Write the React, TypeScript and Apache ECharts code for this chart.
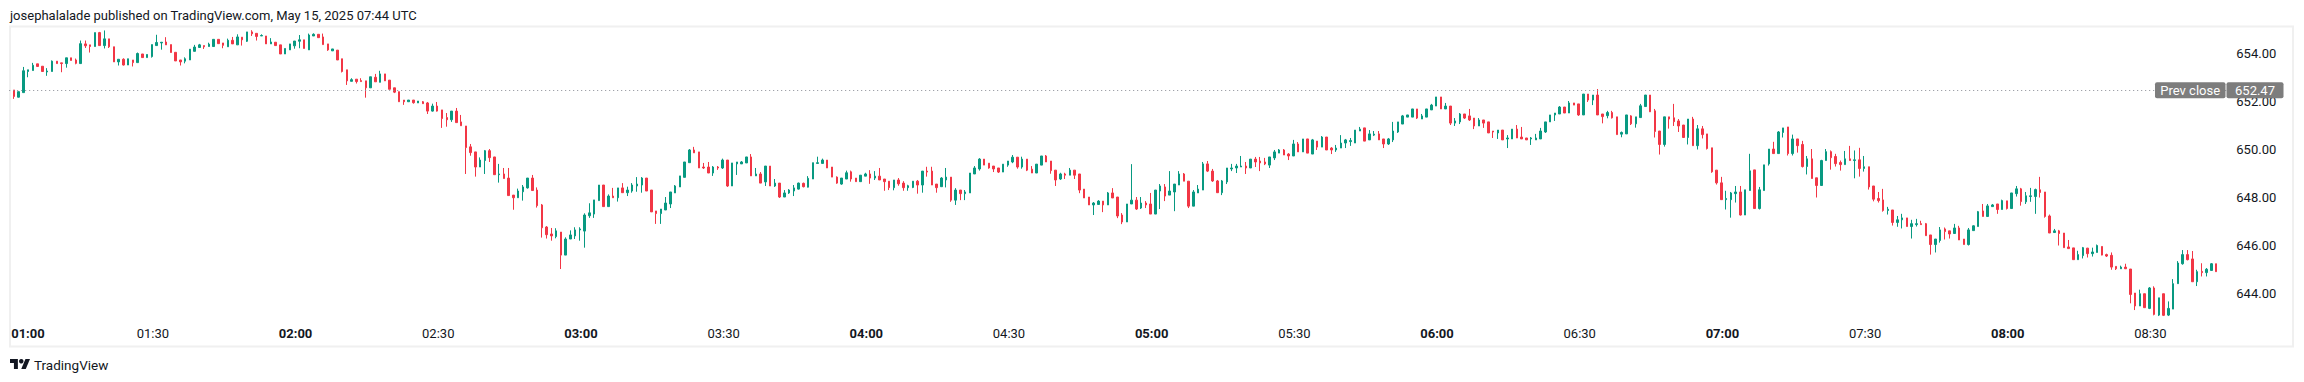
import React, { useEffect, useRef } from "react";
import * as echarts from "echarts";

const TITLE = "josephalalade published on TradingView.com, May 15, 2025 07:44 UTC";
const BRAND = "TradingView";
const PREV_CLOSE = 652.47;
const PREV_LABEL = "Prev close";
const SESSION_START_MIN = 60; // 01:00
const SLOT_COUNT = 468; // 01:00 .. 08:47
const PRICE_MIN = 642;
const PRICE_MAX = 655;
const PRICE_STEP = 2;

const FONT = "Roboto, 'Noto Sans', sans-serif";
const UP = "#089981";
const DOWN = "#F23645";
const TEXT = "#131722";

// one-minute bars, [open, high, low, close]
// 01:01 - 01:59
const bars01 = [
  [652.48, 652.48, 652.11, 652.21], [652.18, 652.41, 652.17, 652.41], [652.37, 653.44, 652.37, 653.28],
  [653.25, 653.32, 653.01, 653.32], [653.29, 653.61, 653.29, 653.51], [653.57, 653.57, 653.46, 653.46],
  [653.47, 653.47, 653.24, 653.25], [653.23, 653.39, 653.07, 653.27], [653.25, 653.71, 653.25, 653.68],
  [653.68, 653.68, 653.58, 653.58], [653.61, 653.61, 653.22, 653.58], [653.58, 653.82, 653.41, 653.82],
  [653.82, 653.82, 653.71, 653.71], [653.73, 653.79, 653.55, 653.59], [653.58, 654.54, 653.58, 654.41],
  [654.40, 654.54, 654.23, 654.32], [654.36, 654.36, 654.04, 654.29], [654.29, 654.87, 654.29, 654.87],
  [654.87, 654.90, 654.33, 654.33], [654.33, 654.96, 654.21, 654.61], [654.61, 654.61, 654.23, 654.28],
  [654.28, 654.28, 653.65, 653.65], [653.65, 653.76, 653.50, 653.76], [653.76, 653.80, 653.50, 653.52],
  [653.52, 653.78, 653.52, 653.78], [653.73, 653.73, 653.46, 653.62], [653.62, 654.04, 653.62, 654.00],
  [653.98, 653.98, 653.83, 653.83], [653.83, 653.96, 653.83, 653.96], [653.87, 654.37, 653.83, 654.37],
  [654.33, 654.78, 654.33, 654.46], [654.44, 654.47, 654.16, 654.47], [654.48, 654.68, 654.36, 654.36],
  [654.37, 654.37, 654.04, 654.04], [654.05, 654.05, 653.69, 653.69], [653.73, 653.73, 653.50, 653.65],
  [653.68, 653.84, 653.59, 653.78], [653.73, 654.18, 653.73, 654.18], [654.09, 654.36, 654.09, 654.27],
  [654.25, 654.40, 654.24, 654.36], [654.33, 654.33, 654.19, 654.28], [654.29, 654.45, 654.29, 654.39],
  [654.29, 654.59, 654.29, 654.59], [654.59, 654.59, 654.41, 654.41], [654.44, 654.44, 654.22, 654.34],
  [654.28, 654.62, 654.28, 654.55], [654.55, 654.69, 654.40, 654.40], [654.36, 654.80, 654.36, 654.69],
  [654.68, 654.68, 654.33, 654.57], [654.51, 654.90, 654.48, 654.90], [654.90, 654.97, 654.73, 654.82],
  [654.84, 654.84, 654.54, 654.71], [654.73, 654.80, 654.73, 654.75], [654.73, 654.73, 654.40, 654.40],
  [654.40, 654.64, 654.40, 654.48], [654.47, 654.47, 654.33, 654.33], [654.36, 654.36, 653.98, 653.98],
  [653.98, 654.21, 653.98, 654.21], [654.15, 654.40, 654.15, 654.40],
];
// 02:00 - 02:59
const bars02 = [
  [654.32, 654.52, 654.20, 654.52], [654.51, 654.77, 654.22, 654.57], [654.57, 654.57, 654.21, 654.21],
  [654.15, 654.83, 654.15, 654.77], [654.73, 654.84, 654.73, 654.80], [654.80, 654.80, 654.66, 654.66],
  [654.69, 654.83, 654.37, 654.37], [654.40, 654.40, 654.11, 654.15], [654.11, 654.19, 654.11, 654.19],
  [654.14, 654.14, 653.73, 653.73], [653.78, 653.78, 653.21, 653.25], [653.32, 653.32, 652.69, 652.86],
  [652.84, 652.97, 652.84, 652.91], [652.93, 652.93, 652.75, 652.83], [652.87, 652.97, 652.83, 652.83],
  [652.86, 652.86, 652.16, 652.57], [652.57, 653.03, 652.57, 653.03], [653.01, 653.15, 652.82, 652.82],
  [652.80, 653.28, 652.80, 653.15], [653.15, 653.15, 652.86, 652.86], [652.89, 652.89, 652.51, 652.51],
  [652.57, 652.57, 652.35, 652.39], [652.41, 652.41, 651.99, 651.99], [652.06, 652.06, 651.86, 651.99],
  [651.99, 652.06, 651.99, 652.06], [652.06, 652.06, 651.91, 651.95], [651.94, 652.02, 651.94, 652.02],
  [651.99, 652.02, 651.91, 651.91], [651.94, 651.98, 651.48, 651.60], [651.60, 651.91, 651.58, 651.81],
  [651.81, 651.98, 651.58, 651.60], [651.65, 651.65, 650.90, 651.29], [651.33, 651.52, 650.95, 651.24],
  [651.24, 651.60, 651.15, 651.60], [651.60, 651.73, 651.12, 651.12], [651.15, 651.44, 650.99, 650.99],
  [650.98, 650.98, 648.98, 650.08], [650.11, 650.23, 649.74, 649.87], [649.90, 649.90, 648.87, 649.27],
  [649.27, 649.67, 649.27, 649.56], [649.54, 649.98, 648.98, 649.95], [649.95, 650.02, 649.48, 649.66],
  [649.69, 649.69, 648.95, 648.95], [648.95, 649.40, 648.62, 648.98], [648.98, 649.23, 648.79, 648.79],
  [648.81, 649.23, 648.08, 648.08], [648.10, 648.10, 647.49, 647.99], [647.99, 648.37, 647.99, 648.27],
  [648.24, 648.52, 647.87, 648.44], [648.40, 648.81, 648.37, 648.81], [648.81, 648.94, 648.29, 648.29],
  [648.31, 648.42, 647.58, 647.66], [647.69, 647.73, 646.33, 646.74], [646.77, 646.81, 646.29, 646.45],
  [646.48, 646.73, 646.20, 646.40], [646.37, 646.72, 646.30, 646.61], [646.56, 646.56, 645.02, 645.60],
  [645.60, 646.34, 645.60, 646.27], [646.27, 646.63, 646.27, 646.44], [646.40, 646.76, 646.27, 646.65],
];
// 03:00 - 03:59
const bars03 = [
  [646.65, 646.76, 646.20, 646.69], [646.60, 647.34, 645.91, 647.27], [647.24, 647.76, 647.15, 647.36],
  [647.31, 647.90, 647.15, 647.90], [647.87, 648.52, 647.87, 648.52], [648.52, 648.52, 647.62, 647.62],
  [647.62, 648.13, 647.62, 648.06], [648.06, 648.40, 647.99, 647.99], [647.99, 648.40, 647.83, 648.40],
  [648.40, 648.60, 648.20, 648.20], [648.20, 648.45, 648.06, 648.31], [648.27, 648.60, 648.20, 648.52],
  [648.48, 648.85, 648.24, 648.56], [648.52, 648.85, 648.20, 648.81], [648.81, 648.81, 648.27, 648.27],
  [648.31, 648.31, 647.40, 647.40], [647.44, 647.44, 646.90, 647.33], [647.33, 647.52, 646.90, 647.52],
  [647.48, 648.02, 647.48, 647.77], [647.73, 648.23, 647.56, 648.23], [648.19, 648.52, 648.19, 648.48],
  [648.44, 648.90, 648.44, 648.90], [648.84, 649.48, 648.84, 649.48], [649.45, 650.02, 649.45, 649.98],
  [649.98, 650.11, 649.86, 649.86], [649.90, 649.90, 649.23, 649.23], [649.27, 649.44, 649.19, 649.23],
  [649.27, 649.48, 649.02, 649.02], [649.02, 649.31, 648.90, 649.27], [649.27, 649.31, 649.15, 649.23],
  [649.23, 649.62, 649.19, 649.56], [649.56, 649.56, 648.44, 648.48], [648.48, 649.44, 648.48, 649.44],
  [649.40, 649.48, 648.94, 649.48], [649.40, 649.52, 649.40, 649.48], [649.44, 649.69, 649.44, 649.69],
  [649.69, 649.81, 648.90, 648.90], [648.90, 649.23, 648.90, 648.98], [648.98, 649.06, 648.60, 648.60],
  [648.65, 649.31, 648.48, 649.31], [649.31, 649.31, 648.48, 648.48], [648.48, 648.77, 648.44, 648.60],
  [648.60, 648.60, 647.98, 648.02], [648.02, 648.31, 648.02, 648.19], [648.19, 648.35, 648.15, 648.31],
  [648.27, 648.52, 648.06, 648.40], [648.35, 648.62, 648.33, 648.60], [648.59, 648.62, 648.42, 648.45],
  [648.43, 648.89, 648.42, 648.80], [648.77, 649.45, 648.77, 649.45], [649.42, 649.70, 649.42, 649.45],
  [649.42, 649.62, 649.42, 649.56], [649.56, 649.56, 649.23, 649.23], [649.27, 649.27, 648.85, 648.85],
  [648.85, 648.88, 648.57, 648.60], [648.56, 648.81, 648.53, 648.81], [648.77, 649.12, 648.77, 649.03],
  [649.07, 649.12, 648.66, 648.77], [648.81, 648.81, 648.66, 648.66], [648.66, 648.93, 648.66, 648.93],
];
// 04:00 - 04:59
const bars04 = [
  [648.89, 649.03, 648.89, 648.98], [648.98, 649.14, 648.57, 648.81], [648.81, 649.10, 648.73, 648.89],
  [648.89, 649.23, 648.73, 648.73], [648.77, 648.77, 648.28, 648.66], [648.68, 648.68, 648.31, 648.41],
  [648.41, 648.73, 648.30, 648.73], [648.73, 648.81, 648.49, 648.57], [648.60, 648.68, 648.28, 648.41],
  [648.41, 648.53, 648.28, 648.49], [648.42, 648.68, 648.39, 648.68], [648.68, 648.73, 648.16, 648.52],
  [648.52, 649.10, 648.20, 649.10], [649.10, 649.28, 648.87, 649.06], [649.10, 649.28, 648.52, 648.52],
  [648.56, 648.56, 648.20, 648.41], [648.45, 648.85, 648.45, 648.81], [648.73, 649.23, 648.42, 648.85],
  [648.85, 648.85, 647.82, 647.89], [647.89, 648.39, 647.69, 648.31], [648.31, 648.31, 647.89, 648.16],
  [648.16, 648.31, 647.89, 648.23], [648.19, 649.02, 648.19, 649.02], [648.98, 649.31, 648.98, 649.23],
  [649.19, 649.64, 649.12, 649.60], [649.60, 649.60, 649.35, 649.35], [649.43, 649.43, 649.20, 649.23],
  [649.31, 649.31, 649.06, 649.19], [649.23, 649.23, 649.02, 649.06], [649.06, 649.39, 649.06, 649.39],
  [649.35, 649.52, 649.28, 649.52], [649.48, 649.77, 649.43, 649.68], [649.68, 649.68, 649.20, 649.27],
  [649.27, 649.70, 649.20, 649.60], [649.60, 649.60, 649.10, 649.14], [649.18, 649.31, 649.02, 649.02],
  [649.02, 649.39, 649.02, 649.39], [649.35, 649.73, 649.35, 649.73], [649.73, 649.77, 649.48, 649.48],
  [649.52, 649.52, 648.99, 649.12], [649.14, 649.14, 648.48, 648.73], [648.77, 649.03, 648.73, 648.98],
  [648.98, 649.03, 648.77, 648.93], [648.93, 649.23, 648.93, 649.14], [649.14, 649.14, 648.77, 648.93],
  [648.98, 648.98, 648.18, 648.31], [648.35, 648.35, 647.98, 647.98], [648.02, 648.02, 647.69, 647.69],
  [647.69, 647.81, 647.27, 647.77], [647.71, 647.89, 647.69, 647.85], [647.85, 647.85, 647.39, 647.69],
  [647.69, 648.23, 647.69, 648.19], [648.19, 648.39, 647.98, 647.98], [648.02, 648.02, 647.14, 647.23],
  [647.27, 647.35, 646.89, 646.98], [646.98, 647.73, 646.98, 647.73], [647.73, 649.39, 647.73, 647.89],
  [647.89, 648.02, 647.48, 647.52], [647.56, 648.02, 647.52, 647.77], [647.77, 647.85, 647.56, 647.69],
];
// 05:00 - 05:59
const bars05 = [
  [647.73, 648.19, 647.31, 647.31], [647.31, 648.31, 647.31, 648.31], [648.27, 648.56, 647.52, 648.48],
  [648.44, 648.56, 647.85, 648.06], [648.10, 649.10, 648.10, 648.27], [648.23, 648.56, 647.43, 648.56],
  [648.52, 649.10, 648.52, 648.98], [648.98, 649.02, 648.68, 648.68], [648.68, 648.68, 647.56, 647.64],
  [647.64, 648.31, 647.64, 648.23], [648.19, 648.52, 648.19, 648.35], [648.31, 649.48, 648.31, 649.40],
  [649.40, 649.52, 649.06, 649.10], [649.10, 649.19, 648.65, 648.69], [648.69, 648.73, 648.20, 648.20],
  [648.20, 648.73, 648.10, 648.69], [648.65, 649.23, 648.56, 649.23], [649.19, 649.40, 649.10, 649.23],
  [649.23, 649.40, 649.02, 649.31], [649.27, 649.73, 649.27, 649.31], [649.31, 649.48, 648.98, 649.23],
  [649.23, 649.60, 649.23, 649.60], [649.60, 649.69, 649.27, 649.48], [649.52, 649.69, 649.10, 649.44],
  [649.48, 649.65, 649.35, 649.40], [649.35, 649.69, 649.23, 649.69], [649.65, 649.98, 649.56, 649.90],
  [649.85, 650.02, 649.85, 649.98], [649.98, 650.02, 649.77, 649.77], [649.81, 649.85, 649.56, 649.73],
  [649.73, 650.40, 649.73, 650.23], [650.23, 650.31, 649.90, 649.90], [649.90, 650.44, 649.90, 650.44],
  [650.44, 650.44, 649.85, 649.85], [649.81, 650.44, 649.81, 650.40], [650.35, 650.35, 649.98, 650.10],
  [650.10, 650.56, 650.10, 650.52], [650.52, 650.52, 649.98, 649.98], [650.06, 650.10, 649.81, 649.98],
  [649.98, 650.19, 649.90, 650.06], [650.06, 650.60, 650.06, 650.27], [650.27, 650.44, 650.06, 650.40],
  [650.33, 650.48, 650.15, 650.37], [650.27, 650.81, 650.27, 650.81], [650.77, 650.94, 650.77, 650.85],
  [650.90, 650.90, 650.35, 650.35], [650.40, 650.81, 650.40, 650.65], [650.60, 650.77, 650.56, 650.64],
  [650.65, 650.77, 650.40, 650.40], [650.44, 650.44, 650.06, 650.23], [650.23, 650.48, 650.19, 650.44],
  [650.40, 651.15, 650.31, 650.77], [650.73, 651.15, 650.69, 651.15], [651.06, 651.44, 651.06, 651.40],
  [651.35, 651.44, 651.35, 651.44], [651.35, 651.69, 651.35, 651.69], [651.69, 651.69, 651.27, 651.31],
  [651.27, 651.48, 651.27, 651.40], [651.35, 651.69, 651.35, 651.69], [651.65, 651.90, 651.65, 651.85],
];
// 06:00 - 06:59
const bars06 = [
  [651.81, 652.19, 651.81, 652.19], [652.19, 652.19, 651.69, 651.69], [651.69, 651.94, 651.69, 651.81],
  [651.81, 651.81, 651.02, 651.10], [651.10, 651.31, 650.98, 651.19], [651.15, 651.52, 651.06, 651.48],
  [651.48, 651.48, 651.27, 651.31], [651.40, 651.69, 651.19, 651.23], [651.31, 651.31, 650.85, 650.98],
  [650.98, 651.31, 650.98, 651.23], [651.23, 651.23, 650.90, 651.10], [651.15, 651.15, 650.69, 650.69],
  [650.77, 650.77, 650.48, 650.73], [650.69, 650.81, 650.44, 650.81], [650.81, 650.81, 650.40, 650.40],
  [650.44, 650.60, 650.06, 650.48], [650.44, 650.85, 650.44, 650.85], [650.85, 651.02, 650.48, 650.48],
  [650.52, 650.94, 650.44, 650.44], [650.48, 650.48, 650.40, 650.40], [650.44, 650.52, 650.19, 650.48],
  [650.40, 650.65, 650.40, 650.48], [650.44, 650.90, 650.44, 650.77], [650.73, 651.15, 650.69, 651.15],
  [651.15, 651.44, 651.15, 651.44], [651.44, 651.52, 651.19, 651.52], [651.48, 651.81, 651.48, 651.77],
  [651.77, 651.77, 651.52, 651.52], [651.52, 652.02, 651.52, 651.94], [651.94, 651.94, 651.85, 651.85],
  [651.90, 651.90, 651.40, 651.44], [651.44, 652.31, 651.44, 652.31], [652.31, 652.31, 651.98, 652.06],
  [652.06, 652.27, 651.85, 652.27], [652.27, 652.52, 651.44, 651.44], [651.48, 651.48, 651.09, 651.37],
  [651.41, 651.61, 651.30, 651.54], [651.54, 651.61, 651.29, 651.32], [651.36, 651.36, 650.62, 650.62],
  [650.64, 650.75, 650.51, 650.71], [650.65, 651.44, 650.65, 651.44], [651.40, 651.43, 651.02, 651.07],
  [651.07, 651.36, 650.91, 651.36], [651.33, 651.90, 651.33, 651.82], [651.79, 652.27, 651.79, 652.27],
  [652.27, 652.27, 651.57, 651.57], [651.61, 651.69, 650.50, 650.75], [650.77, 650.77, 649.79, 650.21],
  [650.21, 651.36, 650.12, 651.36], [651.36, 651.36, 650.87, 651.27], [651.32, 651.90, 650.98, 651.16],
  [651.19, 651.27, 650.73, 650.98], [651.02, 651.02, 650.50, 650.50], [650.50, 651.27, 650.21, 651.27],
  [651.27, 651.36, 650.16, 650.16], [650.16, 651.02, 650.00, 650.86], [650.86, 650.98, 650.46, 650.62],
  [650.65, 650.65, 650.00, 650.04], [650.07, 650.07, 649.03, 649.07], [649.14, 649.14, 648.54, 648.61],
];
// 07:00 - 07:59
const bars07 = [
  [648.61, 648.86, 647.91, 647.91], [647.91, 648.28, 647.50, 647.96], [647.91, 648.23, 647.16, 648.19],
  [648.16, 648.48, 647.79, 648.23], [648.23, 648.48, 647.25, 647.27], [647.27, 648.32, 647.27, 648.32],
  [648.29, 649.82, 648.29, 649.11], [649.15, 649.15, 647.54, 647.54], [647.54, 648.44, 647.50, 648.32],
  [648.29, 649.36, 648.29, 649.36], [649.40, 650.02, 649.33, 650.02], [650.02, 650.32, 649.83, 649.83],
  [649.83, 650.77, 649.83, 650.73], [650.71, 650.90, 650.50, 650.90], [650.94, 650.94, 649.75, 649.83],
  [649.83, 650.62, 649.75, 650.44], [650.44, 650.44, 649.87, 650.16], [650.21, 650.36, 649.25, 649.29],
  [649.29, 649.73, 648.96, 649.61], [649.61, 650.02, 648.79, 648.79], [648.82, 648.82, 648.00, 648.50],
  [648.50, 649.57, 648.50, 649.54], [649.54, 650.02, 649.54, 649.91], [649.91, 649.96, 649.16, 649.66],
  [649.71, 649.82, 649.29, 649.41], [649.46, 649.54, 649.12, 649.37], [649.37, 649.94, 649.37, 649.61],
  [649.61, 650.15, 649.54, 649.54], [649.54, 649.96, 648.80, 649.57], [649.57, 650.07, 648.87, 649.21],
  [649.21, 649.73, 649.08, 649.28], [649.28, 649.28, 648.33, 648.44], [648.48, 648.48, 647.84, 647.93],
  [647.96, 648.23, 647.79, 647.87], [647.90, 648.36, 647.41, 647.46], [647.46, 647.61, 647.29, 647.51],
  [647.48, 647.48, 646.83, 646.96], [646.96, 647.23, 646.78, 647.07], [647.07, 647.32, 646.71, 647.15],
  [647.15, 647.15, 646.79, 646.79], [646.79, 647.07, 646.29, 646.91], [646.87, 647.11, 646.79, 646.91],
  [646.91, 647.03, 646.87, 646.87], [646.91, 646.94, 646.41, 646.41], [646.44, 646.44, 645.62, 646.04],
  [646.04, 646.27, 645.71, 646.27], [646.21, 646.77, 646.12, 646.65], [646.69, 646.75, 646.25, 646.58],
  [646.61, 646.61, 646.29, 646.48], [646.50, 646.90, 646.50, 646.73], [646.73, 646.82, 646.23, 646.23],
  [646.27, 646.27, 646.04, 646.04], [646.04, 646.73, 646.00, 646.65], [646.62, 646.84, 646.62, 646.82],
  [646.79, 647.44, 646.79, 647.41], [647.44, 647.73, 647.21, 647.21], [647.21, 647.73, 647.21, 647.65],
  [647.62, 647.73, 647.61, 647.69], [647.73, 647.73, 647.32, 647.50], [647.50, 647.91, 647.50, 647.87],
];
// 08:00 - 08:44
const bars08 = [
  [647.86, 647.86, 647.50, 647.54], [647.54, 648.19, 647.54, 648.19], [648.16, 648.48, 648.04, 648.36],
  [648.36, 648.40, 647.66, 647.83], [647.82, 648.23, 647.73, 648.07], [648.04, 648.40, 647.82, 648.07],
  [648.04, 648.37, 647.32, 648.33], [648.32, 648.86, 648.00, 648.21], [648.23, 648.23, 647.16, 647.21],
  [647.23, 647.29, 646.52, 646.52], [646.54, 646.69, 646.54, 646.61], [646.61, 646.65, 646.00, 646.50],
  [646.52, 646.52, 645.91, 645.91], [645.94, 646.23, 645.87, 645.87], [645.90, 645.90, 645.41, 645.41],
  [645.41, 645.78, 645.41, 645.62], [645.58, 645.94, 645.46, 645.91], [645.89, 645.90, 645.50, 645.66],
  [645.66, 645.91, 645.54, 645.73], [645.71, 646.04, 645.71, 646.00], [645.96, 645.96, 645.59, 645.60],
  [645.62, 645.66, 645.52, 645.56], [645.59, 645.71, 644.99, 645.10], [645.13, 645.13, 644.98, 645.03],
  [645.03, 645.16, 645.02, 645.10], [645.10, 645.24, 645.02, 645.03], [645.02, 645.02, 643.59, 643.96],
  [644.02, 644.02, 643.31, 643.48], [643.48, 644.16, 643.48, 643.99], [643.99, 643.99, 643.41, 643.41],
  [643.38, 644.27, 643.35, 644.23], [644.23, 644.30, 643.09, 643.13], [643.10, 643.82, 643.06, 643.82],
  [643.99, 643.99, 643.06, 643.09], [643.10, 643.67, 643.06, 643.38], [643.35, 644.60, 643.35, 644.41],
  [644.41, 645.35, 644.41, 645.27], [645.24, 645.81, 645.20, 645.62], [645.62, 645.81, 645.38, 645.41],
  [645.44, 645.77, 644.49, 644.49], [644.49, 644.99, 644.31, 644.91], [644.92, 645.26, 644.71, 644.87],
  [644.87, 645.06, 644.71, 645.01], [644.96, 645.27, 644.96, 645.24], [645.24, 645.24, 644.91, 644.91],
];

const BARS = [...bars01, ...bars02, ...bars03, ...bars04, ...bars05, ...bars06, ...bars07, ...bars08];

function minuteLabel(m: number): string {
  const h = Math.floor(m / 60);
  const mm = m % 60;
  return String(h).padStart(2, "0") + ":" + String(mm).padStart(2, "0");
}

function buildTimes(): string[] {
  const out: string[] = [];
  for (let k = 0; k < SLOT_COUNT; k++) out.push(minuteLabel(SESSION_START_MIN + k));
  return out;
}

export default function App() {
  const ref = useRef<HTMLDivElement>(null);

  useEffect(() => {
    const el = ref.current;
    if (!el) return;
    const chart = echarts.init(el, null, { renderer: "svg" });
    const times = buildTimes();
    // first bar is 01:01 (slot 1)
    const data = BARS.map((b, k) => [times[k + 1], b[0], b[3], b[2], b[1]]);

    chart.setOption({
      animation: false,
      backgroundColor: "#ffffff",
      textStyle: { fontFamily: FONT },
      grid: { left: 9.2, right: 73.7, top: 29.5, bottom: 40.5, containLabel: false },
      xAxis: {
        type: "category",
        data: times,
        boundaryGap: false,
        axisLine: { show: false },
        axisTick: { show: false },
        splitLine: { show: false },
        axisLabel: {
          interval: (_i: number, v: string) => v.endsWith(":00") || v.endsWith(":30"),
          margin: -8,
          verticalAlign: "middle",
          alignMinLabel: "left",
          padding: [0, 0, 0, 2],
          formatter: (v: string) => (v.endsWith(":00") ? `{b|${v}}` : `{n|${v}}`),
          rich: {
            b: { fontWeight: "bold", fontSize: 13, color: TEXT, fontFamily: FONT },
            n: { fontWeight: "normal", fontSize: 13, color: TEXT, fontFamily: FONT },
          },
        },
      },
      yAxis: {
        type: "value",
        position: "right",
        min: PRICE_MIN,
        max: PRICE_MAX,
        interval: PRICE_STEP,
        scale: true,
        axisLine: { show: false },
        axisTick: { show: false },
        splitLine: { show: false },
        axisLabel: {
          margin: 6,
          color: TEXT,
          fontSize: 13,
          fontFamily: FONT,
          padding: [0, 0, 2, 0],
          formatter: (v: number) => (v <= PRICE_MIN || v >= PRICE_MAX ? "" : v.toFixed(2)),
        },
      },
      series: [
        {
          type: "candlestick",
          data,
          encode: { x: 0, y: [1, 2, 3, 4] },
          barWidth: 2,
          itemStyle: {
            color: UP,
            color0: DOWN,
            borderColor: UP,
            borderColor0: DOWN,
            borderWidth: 1,
          },
          markLine: {
            silent: true,
            symbol: ["none", "none"],
            label: { show: false },
            lineStyle: { color: "#8a8d96", width: 1, type: [1, 3] },
            data: [{ yAxis: PREV_CLOSE }],
          },
        },
      ],
    });

    const py = chart.convertToPixel({ yAxisIndex: 0 }, PREV_CLOSE) as number;

    chart.setOption({
      graphic: [
        {
          type: "rect",
          silent: true,
          z: 0,
          shape: { x: 10, y: 26.5, width: 2283, height: 320 },
          style: { fill: "none", stroke: "#F0F0F0", lineWidth: 2 },
        },
        {
          type: "text",
          x: 10,
          y: 15,
          style: { text: TITLE, fill: TEXT, fontSize: 13, fontFamily: FONT, align: "left", verticalAlign: "middle" },
        },
        {
          type: "rect",
          z: 100,
          shape: { x: 2155, y: py - 8, width: 70.5, height: 16, r: 2 },
          style: { fill: "#7d7d7d" },
        },
        {
          type: "text",
          z: 101,
          x: 2190.2,
          y: py,
          style: { text: PREV_LABEL, fill: "#ffffff", fontSize: 13, fontFamily: FONT, align: "center", verticalAlign: "middle" },
        },
        {
          type: "rect",
          z: 100,
          shape: { x: 2226.5, y: py - 8, width: 57, height: 16, r: 2 },
          style: { fill: "#7d7d7d" },
        },
        {
          type: "text",
          z: 101,
          x: 2255,
          y: py,
          style: { text: PREV_CLOSE.toFixed(2), fill: "#ffffff", fontSize: 13, fontFamily: FONT, align: "center", verticalAlign: "middle" },
        },
        {
          type: "group",
          x: 10,
          y: 356.7,
          scaleX: 0.563,
          scaleY: 0.563,
          children: [
            { type: "polygon", shape: { points: [[0, 4], [14, 4], [14, 22], [7, 22], [7, 11], [0, 11]] }, style: { fill: TEXT } },
            { type: "polygon", shape: { points: [[20, 22], [27.5, 4], [35.5, 4], [28, 22]] }, style: { fill: TEXT } },
            { type: "circle", shape: { cx: 20, cy: 8, r: 4 }, style: { fill: TEXT } },
          ],
        },
        {
          type: "text",
          x: 34,
          y: 365,
          style: { text: BRAND, fill: TEXT, fontSize: 13.5, fontFamily: FONT, align: "left", verticalAlign: "middle" },
        },
      ],
    });

    return () => chart.dispose();
  }, []);

  return (
    <div
      ref={ref}
      style={{ position: "fixed", left: 0, top: 0, width: 2304, height: 382, background: "#ffffff" }}
    />
  );
}
